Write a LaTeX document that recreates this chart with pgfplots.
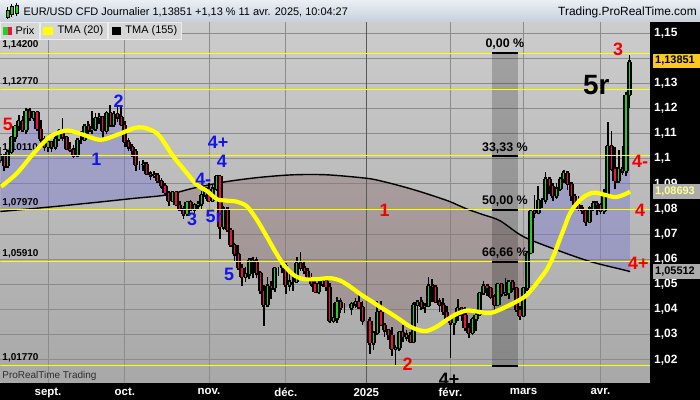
\documentclass[border=0pt]{standalone}
\usepackage{pgfplots}
\pgfplotsset{compat=1.18}
\usepackage{pgfplotstable}
\usepgfplotslibrary{fillbetween}
\usepackage{fontspec}
\setmainfont{Liberation Sans}
\definecolor{upc}{RGB}{40,205,40}
\definecolor{dnc}{RGB}{235,20,60}
\definecolor{ewblue}{RGB}{20,20,235}
\definecolor{ewred}{RGB}{245,0,0}
\definecolor{fillblue}{RGB}{120,120,210}
\definecolor{fillbrown}{RGB}{140,112,112}
\definecolor{bgtop}{RGB}{204,204,204}
\definecolor{bgbot}{RGB}{168,168,168}
\definecolor{gridc}{RGB}{140,140,140}
\definecolor{titletop}{RGB}{234,239,244}
\definecolor{titlebot}{RGB}{198,208,218}
\definecolor{legbg}{RGB}{214,214,214}
\definecolor{hly}{RGB}{255,255,0}
\definecolor{boxgold}{RGB}{250,200,30}
\definecolor{boxgray}{RGB}{172,172,172}

\pgfplotstableread{
x o h l c
-13 1.0995 1.1047 1.0983 1.1012
-12 1.1012 1.1020 1.0950 1.0970
-11 1.0970 1.1034 1.0968 1.1028
-10 1.1028 1.1092 1.1020 1.1085
-9 1.1085 1.1133 1.1065 1.1130
-8 1.1130 1.1173 1.1110 1.1150
-7 1.1150 1.1170 1.1110 1.1113
-6 1.1113 1.1200 1.1100 1.1190
-5 1.1190 1.1202 1.1150 1.1162
-4 1.1162 1.1190 1.1150 1.1185
-3 1.1185 1.1190 1.1110 1.1120
-2 1.1120 1.1155 1.1060 1.1077
-1 1.1077 1.1090 1.1030 1.1047
0 1.1047 1.1078 1.1025 1.1066
1 1.1066 1.1070 1.1026 1.1045
2 1.1045 1.1089 1.1035 1.1080
3 1.1080 1.1120 1.1070 1.1110
4 1.1110 1.1160 1.1070 1.1085
5 1.1085 1.1090 1.1038 1.1040
6 1.1040 1.1066 1.1025 1.1036
7 1.1036 1.1055 1.1002 1.1012
8 1.1012 1.1075 1.1005 1.1075
9 1.1075 1.1110 1.1060 1.1075
10 1.1075 1.1135 1.1070 1.1132
11 1.1132 1.1150 1.1100 1.1114
12 1.1114 1.1190 1.1100 1.1117
13 1.1117 1.1180 1.1115 1.1160
14 1.1160 1.1180 1.1140 1.1164
15 1.1164 1.1170 1.1084 1.1112
16 1.1112 1.1190 1.1100 1.1180
17 1.1180 1.1214 1.1130 1.1134
18 1.1134 1.1190 1.1130 1.1176
19 1.1176 1.1210 1.1145 1.1164
20 1.1164 1.1205 1.1130 1.1135
21 1.1135 1.1150 1.1045 1.1068
22 1.1068 1.1083 1.1030 1.1045
23 1.1045 1.1060 1.1005 1.1030
24 1.1030 1.1040 1.0950 1.0975
25 1.0975 1.0990 1.0955 1.0975
26 1.0975 1.0995 1.0950 1.0980
27 1.0980 1.0985 1.0935 1.0940
28 1.0940 1.0950 1.0915 1.0935
29 1.0935 1.0950 1.0925 1.0937
30 1.0937 1.0940 1.0905 1.0910
31 1.0910 1.0925 1.0880 1.0890
32 1.0890 1.0905 1.0860 1.0862
33 1.0862 1.0870 1.0810 1.0833
34 1.0833 1.0870 1.0830 1.0867
35 1.0867 1.0868 1.0810 1.0817
36 1.0817 1.0830 1.0790 1.0797
37 1.0797 1.0810 1.0760 1.0780
38 1.0780 1.0830 1.0775 1.0827
39 1.0827 1.0835 1.0795 1.0797
40 1.0797 1.0825 1.0780 1.0815
41 1.0815 1.0830 1.0800 1.0818
42 1.0818 1.0870 1.0800 1.0855
43 1.0855 1.0885 1.0840 1.0880
44 1.0880 1.0905 1.0830 1.0833
45 1.0833 1.0900 1.0830 1.0880
46 1.0880 1.0937 1.0870 1.0930
47 1.0930 1.0935 1.0682 1.0728
48 1.0728 1.0810 1.0715 1.0800
49 1.0800 1.0805 1.0710 1.0718
50 1.0718 1.0725 1.0652 1.0655
51 1.0655 1.0665 1.0595 1.0620
52 1.0620 1.0655 1.0560 1.0565
53 1.0565 1.0580 1.0495 1.0530
54 1.0530 1.0570 1.0510 1.0540
55 1.0540 1.0605 1.0520 1.0598
56 1.0598 1.0610 1.0525 1.0595
57 1.0595 1.0610 1.0525 1.0545
58 1.0545 1.0555 1.0462 1.0473
59 1.0473 1.0497 1.0335 1.0418
60 1.0418 1.0530 1.0410 1.0495
61 1.0495 1.0515 1.0440 1.0485
62 1.0485 1.0570 1.0470 1.0565
63 1.0565 1.0570 1.0535 1.0565
64 1.0565 1.0595 1.0545 1.0578
65 1.0578 1.0580 1.0460 1.0497
66 1.0497 1.0540 1.0475 1.0510
67 1.0510 1.0545 1.0475 1.0510
68 1.0510 1.0610 1.0505 1.0585
69 1.0585 1.0630 1.0555 1.0567
70 1.0567 1.0590 1.0540 1.0555
71 1.0555 1.0565 1.0515 1.0525
72 1.0525 1.0545 1.0490 1.0500
73 1.0500 1.0520 1.0465 1.0470
74 1.0470 1.0523 1.0460 1.0500
75 1.0500 1.0525 1.0490 1.0512
76 1.0512 1.0515 1.0475 1.0490
77 1.0490 1.0505 1.0345 1.0355
78 1.0355 1.0425 1.0345 1.0365
79 1.0365 1.0450 1.0345 1.0430
80 1.0430 1.0445 1.0385 1.0405
81 1.0405 1.0425 1.0385 1.0405
83 1.0405 1.0430 1.0380 1.0422
84 1.0422 1.0445 1.0405 1.0428
85 1.0428 1.0460 1.0405 1.0410
86 1.0410 1.0433 1.0340 1.0355
88 1.0355 1.0370 1.0225 1.0265
89 1.0265 1.0310 1.0240 1.0308
90 1.0308 1.0435 1.0300 1.0390
91 1.0390 1.0435 1.0335 1.0340
92 1.0340 1.0345 1.0290 1.0318
93 1.0318 1.0320 1.0280 1.0300
94 1.0300 1.0330 1.0215 1.0243
95 1.0243 1.0260 1.0177 1.0245
96 1.0245 1.0310 1.0235 1.0310
97 1.0310 1.0340 1.0270 1.0290
98 1.0290 1.0320 1.0275 1.0300
99 1.0300 1.0310 1.0265 1.0272
100 1.0272 1.0430 1.0265 1.0420
101 1.0420 1.0430 1.0345 1.0430
102 1.0430 1.0450 1.0400 1.0410
103 1.0410 1.0425 1.0385 1.0415
104 1.0415 1.0530 1.0410 1.0495
105 1.0495 1.0520 1.0430 1.0490
106 1.0490 1.0495 1.0425 1.0430
107 1.0430 1.0445 1.0390 1.0420
108 1.0420 1.0445 1.0380 1.0390
109 1.0390 1.0415 1.0355 1.0360
110 1.0360 1.0365 1.0207 1.0345
111 1.0345 1.0380 1.0300 1.0375
112 1.0375 1.0440 1.0355 1.0405
113 1.0405 1.0410 1.0355 1.0380
114 1.0380 1.0410 1.0315 1.0325
115 1.0325 1.0345 1.0285 1.0307
116 1.0307 1.0370 1.0300 1.0362
117 1.0362 1.0390 1.0315 1.0380
118 1.0380 1.0470 1.0375 1.0465
119 1.0465 1.0515 1.0460 1.0495
120 1.0495 1.0500 1.0455 1.0485
121 1.0485 1.0490 1.0440 1.0450
122 1.0450 1.0460 1.0400 1.0420
123 1.0420 1.0505 1.0415 1.0500
124 1.0500 1.0505 1.0450 1.0460
125 1.0460 1.0525 1.0455 1.0465
126 1.0465 1.0510 1.0440 1.0510
127 1.0510 1.0515 1.0470 1.0485
128 1.0485 1.0490 1.0395 1.0398
129 1.0398 1.0415 1.0360 1.0375
130 1.0375 1.0490 1.0375 1.0485
131 1.0485 1.0630 1.0475 1.0625
132 1.0625 1.0797 1.0620 1.0790
133 1.0790 1.0855 1.0765 1.0785
134 1.0785 1.0890 1.0790 1.0835
135 1.0835 1.0845 1.0805 1.0835
136 1.0835 1.0947 1.0820 1.0920
137 1.0920 1.0925 1.0860 1.0890
138 1.0890 1.0905 1.0830 1.0850
139 1.0850 1.0905 1.0840 1.0880
140 1.0880 1.0925 1.0870 1.0920
141 1.0920 1.0955 1.0905 1.0945
142 1.0945 1.0950 1.0875 1.0900
143 1.0900 1.0905 1.0830 1.0850
144 1.0850 1.0860 1.0795 1.0815
145 1.0815 1.0850 1.0790 1.0800
146 1.0800 1.0815 1.0780 1.0790
147 1.0790 1.0800 1.0733 1.0750
148 1.0750 1.0810 1.0745 1.0800
149 1.0800 1.0830 1.0790 1.0825
150 1.0825 1.0830 1.0775 1.0815
151 1.0815 1.0825 1.0780 1.0792
152 1.0792 1.0880 1.0780 1.0850
153 1.0850 1.1145 1.0845 1.1050
154 1.1050 1.1110 1.0950 1.0960
155 1.0960 1.1045 1.0880 1.0910
156 1.0910 1.1035 1.0905 1.0960
157 1.0960 1.1050 1.0935 1.0950
158 1.0950 1.1265 1.0930 1.1255
159 1.1255 1.1413 1.1200 1.1385
}\ohlc

\begin{document}
\begin{tikzpicture}[
  lab/.style={font=\bfseries\fontsize{10}{10}\selectfont, anchor=west, inner sep=0pt, text=black},
  fib/.style={font=\bfseries\fontsize{12.5}{12.5}\selectfont, inner sep=0pt, text=black},
  ew/.style={font=\bfseries\fontsize{18}{18}\selectfont, inner sep=0pt},
]
\fill[black] (650bp,0) rectangle (700bp,378bp);
\fill[black] (0,0) rectangle (650bp,17bp);
\shade[top color=titletop, bottom color=titlebot] (0,378bp) rectangle (700bp,400bp);
\begin{axis}[
  at={(0bp,17bp)}, anchor=south west, scale only axis,
  width=650bp, height=361bp,
  xmin=-13.03, xmax=164.56, ymin=1.01085, ymax=1.15439,
  axis background/.style={shade, top color=bgtop, bottom color=bgbot},
  axis line style={draw=none},
  xtick={0,21,44,65,87,110,130,151},
  xticklabels={sept.,oct.,nov.,déc.,2025,févr.,mars,avr.},
  ytick={1.02,1.03,1.04,1.05,1.06,1.07,1.08,1.09,1.10,1.11,1.12,1.13,1.14,1.15},
  yticklabels={{1,02},{1,03},{1,04},{1,05},{1,06},{1,07},{1,08},{1,09},{1,1},{1,11},{1,12},{1,13},{},{1,15}},
  ytick pos=right, xtick pos=bottom,
  tick align=outside, major tick length=4bp,
  tick style={white, line width=0.8bp},
  grid=major, grid style={gridc, line width=0.7bp},
  xticklabel style={font=\bfseries\fontsize{11.5}{12}\selectfont, text=white, inner sep=0pt, yshift=-1bp},
  yticklabel style={font=\bfseries\fontsize{12}{12}\selectfont, text=white, anchor=west, inner sep=0pt},
  clip=true,
]
% darker year line
\draw[black!65, line width=0.9bp] (axis cs:87,1.01085) -- (axis cs:87,1.15439);
% price close path and TMA155 path for the fill
\addplot[name path=C, draw=none] table[x=x,y=c]{\ohlc};
\addplot[name path=T, draw=none] coordinates {(-13.03,1.0790) (0.63,1.0808) (14.29,1.0828) (23.31,1.0842) (32.51,1.0856) (39.78,1.0883) (48.91,1.0909) (58.01,1.0926) (67.1,1.0936) (76.23,1.0936) (87.16,1.0922) (91.69,1.0909) (96.26,1.0892) (100.82,1.0873) (105.36,1.0852) (109.92,1.0829) (114.48,1.0800) (119.02,1.0777) (123.58,1.0753) (129.95,1.0690) (139.07,1.0637) (148.17,1.0591) (157.27,1.0558) (159.1,1.0551)};
\addplot[fill opacity=0.42, draw=none] fill between[of=C and T, split, every even segment/.style={fill=fillblue}, every odd segment/.style={fill=fillbrown}];
% fibonacci band
\fill[black, opacity=0.2] (axis cs:121.4,1.142) rectangle (axis cs:128.5,1.0177);
% left level labels
\node[lab] at (axis cs:-12.5,1.1454) {1,14200};
\node[lab] at (axis cs:-12.5,1.1307) {1,12770};
\node[lab] at (axis cs:-12.5,1.1043) {1,10110};
\node[lab] at (axis cs:-12.5,1.0825) {1,07970};
\node[lab] at (axis cs:-12.5,1.0621) {1,05910};
\node[lab] at (axis cs:-12.5,1.0209) {1,01770};
\node[anchor=west, inner sep=0pt, text={rgb,255:red,45;green,45;blue,45}, font=\fontsize{10}{10}\selectfont] at (axis cs:-12.5,1.01364) {ProRealTime Trading};
% TMA 155
\addplot[black, line width=1.4bp, smooth] coordinates {(-13.03,1.0790) (0.63,1.0808) (14.29,1.0828) (23.31,1.0842) (32.51,1.0856) (39.78,1.0883) (48.91,1.0909) (58.01,1.0926) (67.1,1.0936) (76.23,1.0936) (87.16,1.0922) (91.69,1.0909) (96.26,1.0892) (100.82,1.0873) (105.36,1.0852) (109.92,1.0829) (114.48,1.0800) (119.02,1.0777) (123.58,1.0753) (129.95,1.0690) (139.07,1.0637) (148.17,1.0591) (157.27,1.0558) (159.1,1.0551)};
% candles: wicks, bodies (with border), coloured cores
\addplot[black, line width=1.6bp, quiver={u=0, v=\thisrow{h}-\thisrow{l}}] table[x=x,y=l]{\ohlc};
\addplot[black, line width=5.2bp, quiver={u=0, v=\thisrow{c}-\thisrow{o}}] table[x=x,y=o]{\ohlc};
\addplot[black, line width=3bp, line cap=rect, quiver={u=0, v=\thisrow{c}-\thisrow{o}}] table[x=x,y=o]{\ohlc};
\addplot[upc, line width=1.2bp, quiver={u=0, v=\thisrow{c}-\thisrow{o}}, restrict expr to domain={\thisrow{c}-\thisrow{o}}{0.00005:1}] table[x=x,y=o]{\ohlc};
\addplot[dnc, line width=1.2bp, quiver={u=0, v=\thisrow{c}-\thisrow{o}}, restrict expr to domain={\thisrow{c}-\thisrow{o}}{-1:-0.00005}] table[x=x,y=o]{\ohlc};
% horizontal level lines
\foreach \v in {1.142,1.1277,1.1011,1.0797,1.0591,1.0177}{
  \edef\tmp{\noexpand\draw[hly, line width=1.1bp] (axis cs:-13.03,\v) -- (axis cs:164.56,\v);}\tmp
}
% fib bars
\foreach \v in {1.142,1.1011,1.0797,1.0591,1.0177}{
  \edef\tmp{\noexpand\draw[black, line width=2bp] (axis cs:121.4,\v) -- (axis cs:128.5,\v);}\tmp
}
\node[fib] at (axis cs:124.9,1.1456) {0,00 \%};
\node[fib] at (axis cs:124.9,1.1043) {33,33 \%};
\node[fib] at (axis cs:124.9,1.0830) {50,00 \%};
\node[fib] at (axis cs:124.9,1.0624) {66,66 \%};
% TMA 20
\addplot[hly, line width=4.2bp, smooth] coordinates {(-12.8,1.0889) (-8.5,1.0942) (-3.9,1.1022) (0.6,1.1088) (5.2,1.1112) (9.7,1.1095) (14.3,1.1075) (18.9,1.1095) (23.4,1.1121) (26.1,1.1124) (29.8,1.1101) (32.5,1.1048) (34.3,1.1008) (38.0,1.0942) (40.7,1.0896) (43.4,1.0872) (46.2,1.0839) (48.9,1.0833) (51.6,1.0829) (54.4,1.0810) (57.1,1.0757) (59.8,1.0690) (62.1,1.0631) (64.4,1.0578) (67.1,1.0538) (69.8,1.0521) (73.5,1.0521) (77.1,1.0525) (79.9,1.0515) (82.6,1.0491) (85.3,1.0462) (88.1,1.0436) (90.8,1.0410) (93.5,1.0386) (96.3,1.0359) (99.0,1.0332) (101.7,1.0317) (103.6,1.0315) (106.3,1.0332) (109.0,1.0359) (111.8,1.0383) (114.5,1.0396) (117.2,1.0392) (120.9,1.0386) (124.5,1.0406) (128.1,1.0432) (130.9,1.0458) (133.6,1.0505) (136.3,1.0558) (138.1,1.0611) (139.5,1.0664) (140.9,1.0717) (142.7,1.0783) (145.0,1.0829) (147.3,1.0856) (149.5,1.0865) (152.3,1.0856) (155.0,1.0847) (157.3,1.0856) (159.1,1.0869)};
% Elliott wave labels
\node[ew, text=ewred] at (axis cs:-11.0,1.1136) {5};
\node[ew, text=ewblue] at (axis cs:19.3,1.1227) {2};
\node[ew, text=ewblue] at (axis cs:13.2,1.0997) {1};
\node[ew, text=ewblue] at (axis cs:46.5,1.1065) {4+};
\node[ew, text=ewblue] at (axis cs:47.5,1.0989) {4};
\node[ew, text=ewblue, anchor=west] at (axis cs:40.2,1.0916) {4-};
\node[ew, text=ewblue] at (axis cs:39.4,1.0759) {3};
\node[ew, text=ewblue] at (axis cs:45.4,1.0771) {5r};
\node[ew, text=ewblue] at (axis cs:49.5,1.0538) {5};
\node[ew, text=ewred] at (axis cs:92.0,1.0796) {1};
\node[ew, text=ewred] at (axis cs:98.3,1.0183) {2};
\node[ew, text=ewred] at (axis cs:155.8,1.1435) {3};
\node[font=\bfseries\fontsize{28}{28}\selectfont, inner sep=0pt] at (axis cs:149.9,1.1293) {5r};
\end{axis}
% labels cut at the edge of the plot area
\begin{scope}
\clip (0,17bp) rectangle (650bp,378bp);
\node[ew, text=ewred, anchor=west] at (632bp,238.5bp) {4-};
\node[ew, text=ewred] at (640bp,190bp) {4};
\node[ew, text=ewred, anchor=west] at (628bp,137bp) {4+};
\node[ew, text=black] at (449bp,20bp) {4+};
\end{scope}
% legend row
\begin{scope}[every node/.style={font=\fontsize{11}{11}\selectfont, anchor=west, inner sep=0pt}]
\fill[legbg, draw=white!85!gray] (0,361bp) rectangle (39bp,378bp);
\fill[legbg, draw=white!85!gray] (40bp,361bp) rectangle (107bp,378bp);
\fill[legbg, draw=white!85!gray] (108bp,361bp) rectangle (181bp,378bp);
\fill[upc] (3bp,365bp) rectangle (7.5bp,373bp);
\fill[dnc] (7.5bp,365bp) rectangle (12bp,373bp);
\fill[hly] (43bp,365bp) rectangle (53bp,373bp);
\fill[black] (112bp,365bp) rectangle (121bp,373bp);
\node at (15bp,369.5bp) {Prix};
\node at (57bp,369.5bp) {TMA (20)};
\node at (125bp,369.5bp) {TMA (155)};
\end{scope}
% title bar
\draw[black, line width=0.8bp] (7bp,381bp) -- (7bp,393bp);
\fill[upc, draw=black, line width=0.4bp] (5.5bp,383bp) rectangle (8.5bp,390bp);
\draw[black, line width=0.8bp] (11.5bp,383bp) -- (11.5bp,396bp);
\fill[upc, draw=black, line width=0.4bp] (10bp,386bp) rectangle (13bp,394bp);
\draw[black, line width=0.8bp] (16bp,384bp) -- (16bp,397bp);
\fill[upc, draw=black, line width=0.4bp] (14.5bp,387bp) rectangle (17.5bp,395bp);
\node[anchor=west, inner sep=0pt, font=\fontsize{11}{11}\selectfont] at (23bp,388bp) {EUR/USD CFD Journalier 1,13851 +1,13 \% 11 avr. 2025, 10:04:27};
\node[anchor=east, inner sep=0pt, font=\fontsize{12}{12}\selectfont] at (697bp,388bp) {Trading.ProRealTime.com};
% last value boxes
\fill[boxgold] (653bp,332bp) rectangle (700bp,346bp);
\node[anchor=west, inner sep=0pt, font=\bfseries\fontsize{11}{11}\selectfont] at (655bp,339bp) {1,13851};
\fill[boxgray] (653bp,201bp) rectangle (700bp,216bp);
\node[anchor=west, inner sep=0pt, font=\bfseries\fontsize{11}{11}\selectfont, text={rgb,255:red,255;green,255;blue,140}] at (655bp,208.5bp) {1,08693};
\fill[boxgray] (653bp,121bp) rectangle (700bp,136bp);
\node[anchor=west, inner sep=0pt, font=\bfseries\fontsize{11}{11}\selectfont] at (655bp,128.5bp) {1,05512};
\end{tikzpicture}
\end{document}
